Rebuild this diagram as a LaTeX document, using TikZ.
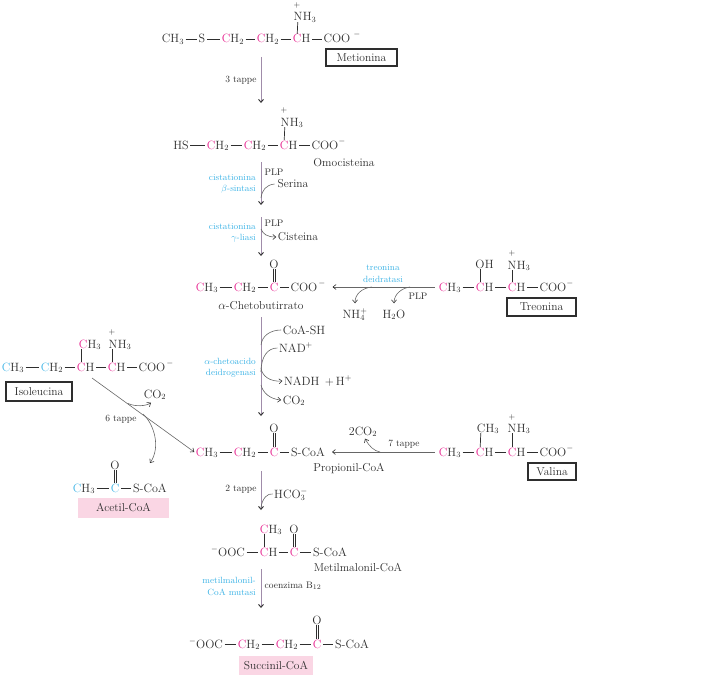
\documentclass[tikz,border=0pt]{standalone}
\usetikzlibrary{arrows.meta}
\definecolor{mag}{HTML}{E6218E}
\definecolor{cya}{HTML}{3FB4E6}
\definecolor{ink}{HTML}{2E2E2E}
\definecolor{flow}{HTML}{A08CAA}
\definecolor{thinc}{HTML}{666666}
\definecolor{pinkbg}{HTML}{FAD6E4}
\newcommand{\mg}[1]{\textcolor{mag}{#1}}
\newcommand{\cy}[1]{\textcolor{cya}{#1}}
\tikzset{
 every node/.style={text=ink},
 chem/.style={inner xsep=0pt,inner ysep=.5pt,text height=8pt,text depth=0pt,font=\fontsize{12}{13}\selectfont},
 chemr/.style={chem,anchor=west},
 chg/.style={inner sep=0pt,font=\fontsize{8}{8}\selectfont},
 cname/.style={inner sep=0pt,font=\fontsize{11.5}{13}\selectfont},
 smalltxt/.style={inner sep=0pt,font=\fontsize{9.5}{11}\selectfont},
 enz/.style={inner sep=0pt,font=\fontsize{9}{11}\selectfont,text=cya,anchor=east},
 bond/.style={draw=ink,line width=.9pt,shorten >=1.5pt,shorten <=1.5pt},
 dbline/.style={draw=ink,line width=.7pt,shorten >=.5pt,shorten <=.5pt},
 vbond/.style={draw=ink,line width=.7pt,shorten >=.5pt,shorten <=.5pt},
 mainarrow/.style={draw=flow,line width=.9pt,-{Straight Barb[length=3pt,width=5pt,color=ink]}},
 sidearrow/.style={draw=thinc,line width=.6pt,-{Straight Barb[length=3pt,width=5pt,color=ink]}},
 sidecurve/.style={draw=thinc,line width=.6pt},
 boxed/.style={draw=ink,line width=1.2pt,inner sep=0pt,font=\fontsize{11.5}{13}\selectfont},
 pinkbox/.style={fill=pinkbg,inner sep=0pt,font=\fontsize{11.5}{13}\selectfont},
}
\begin{document}
\begin{tikzpicture}[x=1pt,y=-1pt]
\useasboundingbox (0,0) rectangle (704,677);
% ---- Metionina
\node[chem] (a1) at (173,39) {CH$_3$};
\node[chem] (a2) at (202,39) {S};
\node[chem] (a3) at (233,39) {\mg{C}H$_2$};
\node[chem] (a4) at (268,39) {\mg{C}H$_2$};
\node[chem] (a5) at (297,39) {\mg{C}};
\node[chemr] (a5h) at (a5.east) {H};
\node[chem] (a6) at (337,39) {COO};
\node[chg] (a6m) at (357,35) {$-$};
\node[chem] (a7) at (298,17) {N};
\node[chemr] (a7h) at (a7.east) {H$_3$};
\node[chg] (a7p) at (297,6) {$+$};
\draw[bond] (a1) -- (a2);
\draw[bond] (a2) -- (a3);
\draw[bond] (a3) -- (a4);
\draw[bond] (a4) -- (a5);
\draw[bond] (a5h) -- (a6);
\draw[vbond] (a7) -- (a5);
\node[boxed,minimum width=71pt,minimum height=17pt] (metbox) at (361.5,57.5) {Metionina};
\coordinate (f1a) at (261,57);
\coordinate (f1b) at (261,103);
\draw[mainarrow] (f1a) -- (f1b);
\node[smalltxt] (t3) at (241,80) {3 tappe};
% ---- Omocisteina
\node[chem] (b1) at (181,145) {HS};
\node[chem] (b2) at (218,145) {\mg{C}H$_2$};
\node[chem] (b3) at (255,145) {\mg{C}H$_2$};
\node[chem] (b4) at (284,145) {\mg{C}};
\node[chemr] (b4h) at (b4.east) {H};
\node[chem] (b5) at (325,145) {COO};
\node[chg] (b5m) at (342,141) {$-$};
\node[chem] (b6) at (285,122) {N};
\node[chemr] (b6h) at (b6.east) {H$_3$};
\node[chg] (b6p) at (284,110) {$+$};
\draw[bond] (b1) -- (b2);
\draw[bond] (b2) -- (b3);
\draw[bond] (b3) -- (b4);
\draw[bond] (b4h) -- (b5);
\draw[vbond] (b6) -- (b4);
\node[cname] (omo) at (344,163) {Omocisteina};
\coordinate (f2a) at (261,162);
\coordinate (f2b) at (261,205);
\draw[mainarrow] (f2a) -- (f2b);
\node[smalltxt] (plp1) at (274,172) {PLP};
\node[cname] (ser) at (293,184) {Serina};
\node[enz] (e1a) at (256,178) {cistationina};
\node[enz] (e1b) at (256,189) {$\beta$-sintasi};
\coordinate (c1e) at (261,198);
\draw[sidecurve] ([xshift=-3pt]ser.west) .. controls (266,185) and (262,190) .. (c1e);
\coordinate (f3a) at (261,217);
\coordinate (f3b) at (261,256);
\draw[mainarrow] (f3a) -- (f3b);
\node[smalltxt] (plp2) at (274,223) {PLP};
\node[cname] (cis) at (298,237) {Cisteina};
\node[enz] (e2a) at (256,227) {cistationina};
\node[enz] (e2b) at (256,238) {$\gamma$-liasi};
\coordinate (c2s) at (261,229);
\draw[sidearrow] (c2s) .. controls (263,234) and (267,237) .. ([xshift=-1.5pt]cis.west);
% ---- alfa-chetobutirrato
\node[chem] (k1) at (207,287) {\mg{C}H$_3$};
\node[chem] (k2) at (245,287) {\mg{C}H$_2$};
\node[chem] (k3) at (274,287) {\mg{C}};
\node[chem] (k4) at (304,287) {COO};
\node[chg] (k4m) at (322,283) {$-$};
\node[chem] (k5) at (274,264) {O};
\draw[bond] (k1) -- (k2);
\draw[bond] (k2) -- (k3);
\draw[bond] (k3) -- (k4);
\draw[dbline] ([xshift=-1.1pt]k5.south) -- ([xshift=-1.1pt]k3.north);
\draw[dbline] ([xshift=1.1pt]k5.south) -- ([xshift=1.1pt]k3.north);
\node[cname] (kname) at (261,306) {$\alpha$-Chetobutirrato};
% ---- Treonina
\node[chem] (h1) at (450,287) {\mg{C}H$_3$};
\node[chem] (h2) at (480,287) {\mg{C}};
\node[chemr] (h2h) at (h2.east) {H};
\node[chem] (h3) at (512,287) {\mg{C}};
\node[chemr] (h3h) at (h3.east) {H};
\node[chem] (h4) at (553,287) {COO};
\node[chg] (h4m) at (570,283) {$-$};
\node[chem] (h5) at (480,264) {O};
\node[chemr] (h5h) at (h5.east) {H};
\node[chem] (h6) at (512,265) {N};
\node[chemr] (h6h) at (h6.east) {H$_3$};
\node[chg] (h6p) at (512,253) {$+$};
\draw[bond] (h1) -- (h2);
\draw[bond] (h2h) -- (h3);
\draw[bond] (h3h) -- (h4);
\draw[vbond] (h5) -- (h2);
\draw[vbond] (h6) -- (h3);
\node[boxed,minimum width=69pt,minimum height=18pt] (trebox) at (541.5,307) {Treonina};
\draw[sidearrow] ([xshift=-4pt]h1.west) -- ([xshift=15pt]k4.east);
\node[enz,anchor=center] (e3a) at (383,268) {treonina};
\node[enz,anchor=center] (e3b) at (383,279) {deidratasi};
\node[chem] (nh4) at (355,314) {NH$_4^+$};
\node[chem] (h2o) at (394,314) {H$_2$O};
\node[smalltxt] (plp3) at (418,296) {PLP};
\coordinate (c3s) at (372,287);
\coordinate (c4s) at (410,287);
\draw[sidearrow] (c3s) .. controls (362,288) and (355,294) .. ([yshift=6pt]nh4.north);
\draw[sidearrow] (c4s) .. controls (402,288) and (394,294) .. ([yshift=6pt]h2o.north);
% ---- dehydrogenase
\coordinate (f4a) at (261,317);
\coordinate (f4b) at (261,416);
\draw[mainarrow] (f4a) -- (f4b);
\node[chem] (coa) at (304,330) {CoA-SH};
\node[chem] (nad) at (296,348) {NAD$^+$};
\node[chem] (nadh) at (318,381) {NADH\;\,+\,H$^+$};
\node[chem] (co2a) at (294,400) {CO$_2$};
\node[enz] (e4a) at (256,361) {$\alpha$-chetoacido};
\node[enz] (e4b) at (256,373) {deidrogenasi};
\coordinate (c5e) at (261,345);
\coordinate (c6e) at (261,372);
\coordinate (c7s) at (261,368);
\coordinate (c8s) at (261,385);
\draw[sidecurve] ([xshift=-1.5pt]coa.west) .. controls (270,330) and (262,336) .. (c5e);
\draw[sidecurve] ([xshift=-1.5pt]nad.west) .. controls (268,348) and (261,356) .. (c6e);
\draw[sidearrow] (c7s) .. controls (262,376) and (270,382) .. ([xshift=-1.5pt]nadh.west);
\draw[sidearrow] (c8s) .. controls (263,393) and (270,399) .. ([xshift=-1.5pt]co2a.west);
% ---- Propionil-CoA
\node[chem] (p1) at (207,452) {\mg{C}H$_3$};
\node[chem] (p2) at (245,452) {\mg{C}H$_2$};
\node[chem] (p3) at (274,452) {\mg{C}};
\node[chem] (p4) at (308,452) {S-CoA};
\node[chem] (p5) at (274,428) {O};
\draw[bond] (p1) -- (p2);
\draw[bond] (p2) -- (p3);
\draw[bond] (p3) -- (p4);
\draw[dbline] ([xshift=-1.1pt]p5.south) -- ([xshift=-1.1pt]p3.north);
\draw[dbline] ([xshift=1.1pt]p5.south) -- ([xshift=1.1pt]p3.north);
\node[cname] (pname) at (349,469) {Propionil-CoA};
% ---- Valina
\node[chem] (v1) at (450,452) {\mg{C}H$_3$};
\node[chem] (v2) at (480,452) {\mg{C}};
\node[chemr] (v2h) at (v2.east) {H};
\node[chem] (v3) at (512,452) {\mg{C}};
\node[chemr] (v3h) at (v3.east) {H};
\node[chem] (v4) at (553,452) {COO};
\node[chg] (v4m) at (570,448) {$-$};
\node[chem] (v5) at (481,428) {C};
\node[chemr] (v5h) at (v5.east) {H$_3$};
\node[chem] (v6) at (512,428) {N};
\node[chemr] (v6h) at (v6.east) {H$_3$};
\node[chg] (v6p) at (512,417) {$+$};
\draw[bond] (v1) -- (v2);
\draw[bond] (v2h) -- (v3);
\draw[bond] (v3h) -- (v4);
\draw[vbond] (v5) -- (v2);
\draw[vbond] (v6) -- (v3);
\node[boxed,minimum width=48pt,minimum height=17pt] (valbox) at (552,471.5) {Valina};
\draw[sidearrow] ([xshift=-4pt]v1.west) -- ([xshift=7pt]p4.east);
\node[chem] (co2b) at (363,431) {2CO$_2$};
\node[smalltxt] (t7) at (404,444) {7 tappe};
\coordinate (c9s) at (380,452);
\draw[sidearrow] (c9s) .. controls (374,451) and (369,446) .. ([xshift=2pt,yshift=-3pt]co2b.south);
% ---- Isoleucina
\node[chem] (i1) at (13,367) {\cy{C}H$_3$};
\node[chem] (i2) at (52,367) {\cy{C}H$_2$};
\node[chem] (i3) at (81,367) {\mg{C}};
\node[chemr] (i3h) at (i3.east) {H};
\node[chem] (i4) at (112,367) {\mg{C}};
\node[chemr] (i4h) at (i4.east) {H};
\node[chem] (i5) at (152,367) {COO};
\node[chg] (i5m) at (170,363) {$-$};
\node[chem] (i6) at (83,344) {\mg{C}};
\node[chemr] (i6h) at (i6.east) {H$_3$};
\node[chem] (i7) at (113,344) {N};
\node[chemr] (i7h) at (i7.east) {H$_3$};
\node[chg] (i7p) at (112,332) {$+$};
\draw[bond] (i1) -- (i2);
\draw[bond] (i2) -- (i3);
\draw[bond] (i3h) -- (i4);
\draw[bond] (i4h) -- (i5);
\draw[vbond] (i6.south -| i3) -- (i3);
\draw[vbond] (i7.south -| i4) -- (i4);
\node[boxed,minimum width=66pt,minimum height=19pt] (isobox) at (39,391.5) {Isoleucina};
\coordinate (g1) at (92,378);
\draw[sidearrow] (g1) -- ([xshift=-1.5pt]p1.west);
\node[chem] (co2c) at (155,394) {CO$_2$};
\node[smalltxt] (t6) at (121,419) {6 tappe};
\coordinate (g2) at (128,403.5);
\coordinate (g3) at (143,414);
\coordinate (g4) at (150,463);
\draw[sidearrow] (g2) .. controls (136,407) and (146,406) .. ([xshift=-4pt,yshift=-4pt]co2c.south);
\draw[sidearrow] (g3) .. controls (154,424) and (161,447) .. (g4);
% ---- Acetil-CoA
\node[chem] (y1) at (84,488) {\cy{C}H$_3$};
\node[chem] (y2) at (115,488) {\cy{C}};
\node[chem] (y3) at (150,488) {S-CoA};
\node[chem] (y4) at (115,465) {O};
\draw[bond] (y1) -- (y2);
\draw[bond] (y2) -- (y3);
\draw[dbline] ([xshift=-1.1pt]y4.south) -- ([xshift=-1.1pt]y2.north);
\draw[dbline] ([xshift=1.1pt]y4.south) -- ([xshift=1.1pt]y2.north);
\node[pinkbox,minimum width=91pt,minimum height=20pt] (acbox) at (123.5,508) {Acetil-CoA};
% ---- to metilmalonil
\coordinate (f5a) at (261,471);
\coordinate (f5b) at (261,510);
\draw[mainarrow] (f5a) -- (f5b);
\node[smalltxt] (t2) at (241,489) {2 tappe};
\node[chem] (hco) at (291,494) {HCO$_3^-$};
\coordinate (c10e) at (261,508);
\draw[sidecurve] ([xshift=-1.5pt]hco.west) .. controls (268,493) and (262,498) .. (c10e);
% ---- Metilmalonil-CoA
\node[chem] (m1) at (228,552) {$^-$OOC};
\node[chem] (m2) at (264,552) {\mg{C}};
\node[chemr] (m2h) at (m2.east) {H};
\node[chem] (m3) at (294,552) {\mg{C}};
\node[chem] (m4) at (330,552) {S-CoA};
\node[chem] (m5) at (264,529) {\mg{C}};
\node[chemr] (m5h) at (m5.east) {H$_3$};
\node[chem] (m6) at (294,529) {O};
\draw[bond] (m1) -- (m2);
\draw[bond] (m2h) -- (m3);
\draw[bond] (m3) -- (m4);
\draw[vbond] (m5) -- (m2);
\draw[dbline] ([xshift=-1.1pt]m6.south) -- ([xshift=-1.1pt]m3.north);
\draw[dbline] ([xshift=1.1pt]m6.south) -- ([xshift=1.1pt]m3.north);
\node[cname] (mname) at (358,568) {Metilmalonil-CoA};
\coordinate (f6a) at (261,569);
\coordinate (f6b) at (261,608);
\draw[mainarrow] (f6a) -- (f6b);
\node[enz] (e5a) at (256,580) {metilmalonil-};
\node[enz] (e5b) at (256,592) {CoA mutasi};
\node[smalltxt] (b12) at (293,586) {coenzima B$_{12}$};
% ---- Succinil-CoA
\node[chem] (s1) at (206,644) {$^-$OOC};
\node[chem] (s2) at (249,644) {\mg{C}H$_2$};
\node[chem] (s3) at (287,644) {\mg{C}H$_2$};
\node[chem] (s4) at (317,644) {\mg{C}};
\node[chem] (s5) at (352,644) {S-CoA};
\node[chem] (s6) at (317,620) {O};
\draw[bond] (s1) -- (s2);
\draw[bond] (s2) -- (s3);
\draw[bond] (s3) -- (s4);
\draw[bond] (s4) -- (s5);
\draw[dbline] ([xshift=-1.1pt]s6.south) -- ([xshift=-1.1pt]s4.north);
\draw[dbline] ([xshift=1.1pt]s6.south) -- ([xshift=1.1pt]s4.north);
\node[pinkbox,minimum width=74pt,minimum height=19pt] (sucbox) at (276,665.5) {Succinil-CoA};
\end{tikzpicture}
\end{document}
